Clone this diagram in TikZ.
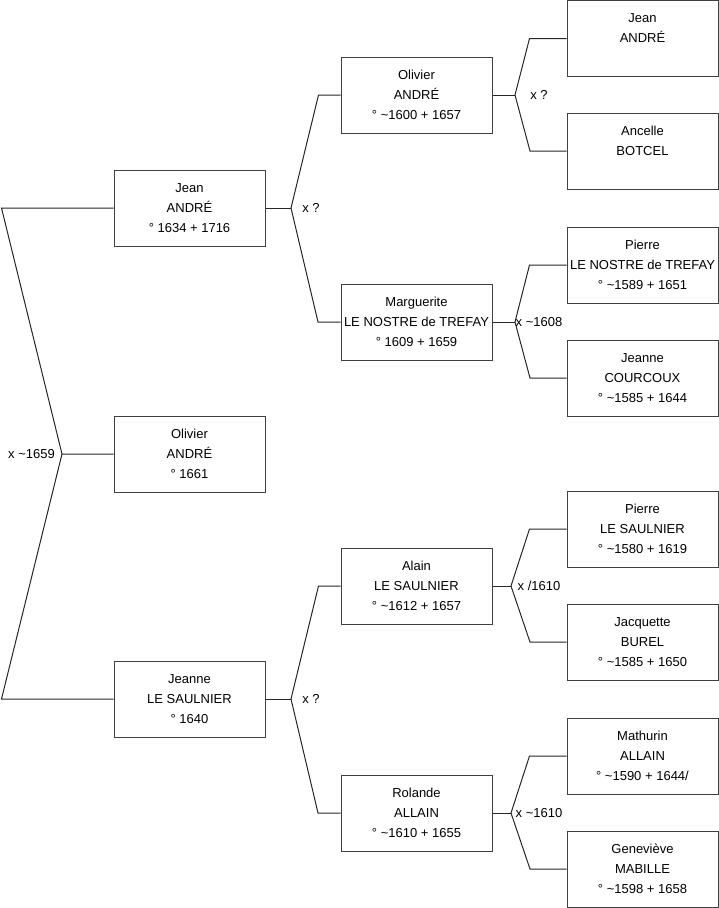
\documentclass[tikz,border=0pt]{standalone}
\usepackage{fontspec}
\setmainfont{Liberation Sans}
\usetikzlibrary{positioning}
\tikzset{
  personne/.style={draw=black!75,line width=1pt,minimum width=151pt,minimum height=76pt,inner sep=0pt,align=center,font=\fontsize{13}{20}\selectfont},
  lien/.style={draw=black!85,line width=1pt},
  union/.style={inner sep=0pt,font=\fontsize{13}{16}\selectfont}
}

\begin{document}
\begin{tikzpicture}[x=1pt,y=-1pt]
\useasboundingbox (0,0) rectangle (719,908);
% generation 1
\node[personne] (jean) at (189.5,208) {Jean\\ANDRÉ\\° 1634 + 1716};
\node[personne] (olivier) at (189.5,454) {Olivier\\ANDRÉ\\° 1661};
\node[personne] (jeanne) at (189.5,699) {Jeanne\\LE SAULNIER\\° 1640};
% generation 2
\node[personne] (olivierP) at (416.5,95) {Olivier\\ANDRÉ\\° \textasciitilde1600 + 1657};
\node[personne] (marguerite) at (416.5,322) {Marguerite\\LE NOSTRE de TREFAY\\° 1609 + 1659};
\node[personne] (alain) at (416.5,586) {Alain\\LE SAULNIER\\° \textasciitilde1612 + 1657};
\node[personne] (rolande) at (416.5,813) {Rolande\\ALLAIN\\° \textasciitilde1610 + 1655};
% generation 3
\node[personne] (jeanA) at (642.5,38.5) {Jean\\ANDRÉ\\\mbox{}};
\node[personne] (ancelle) at (642.5,151) {Ancelle\\BOTCEL\\\mbox{}};
\node[personne] (pierreN) at (642.5,265) {Pierre\\LE NOSTRE de TREFAY\\° \textasciitilde1589 + 1651};
\node[personne] (jeanneC) at (642.5,378) {Jeanne\\COURCOUX\\° \textasciitilde1585 + 1644};
\node[personne] (pierreS) at (642.5,529) {Pierre\\LE SAULNIER\\° \textasciitilde1580 + 1619};
\node[personne] (jacquette) at (642.5,642) {Jacquette\\BUREL\\° \textasciitilde1585 + 1650};
\node[personne] (mathurin) at (642.5,756) {Mathurin\\ALLAIN\\° \textasciitilde1590 + 1644/};
\node[personne] (genevieve) at (642.5,869) {Geneviève\\MABILLE\\° \textasciitilde1598 + 1658};

% unions
\coordinate (u0) at (62,454);
\coordinate (u1) at (291,208);
\coordinate (u2) at (291,699);
\coordinate (u3) at (515,95);
\coordinate (u4) at (515,322);
\coordinate (u5) at (511,586);
\coordinate (u6) at (511,813);

\draw[lien] (jean.west) -- ++(-112,0) -- (u0) -- (olivier.west);
\draw[lien] (jeanne.west) -- ++(-112,0) -- (u0);
\node[union,left=7pt of u0] (m0) {x \textasciitilde1659};

\draw[lien] (jean.east) -- (u1);
\draw[lien] (olivierP.west) -- ++(-22,0) -- (u1) -- ++(27,114) -- (marguerite.west);
\node[union,xshift=20pt] (m1) at (u1) {x ?};

\draw[lien] (jeanne.east) -- (u2);
\draw[lien] (alain.west) -- ++(-22,0) -- (u2) -- ++(27,114) -- (rolande.west);
\node[union,xshift=20pt] (m2) at (u2) {x ?};

\draw[lien] (olivierP.east) -- (u3);
\draw[lien] (jeanA.west) -- ++(-37,0) -- (u3) -- ++(15,56) -- (ancelle.west);
\node[union,xshift=24pt] (m3) at (u3) {x ?};

\draw[lien] (marguerite.east) -- (u4);
\draw[lien] (pierreN.west) -- ++(-37,0) -- (u4) -- ++(15,56) -- (jeanneC.west);
\node[union,xshift=24pt] (m4) at (u4) {x \textasciitilde1608};

\draw[lien] (alain.east) -- (u5);
\draw[lien] (pierreS.west) -- ++(-37,0) -- (u5) -- ++(19,56) -- (jacquette.west);
\node[union,xshift=28pt] (m5) at (u5) {x /1610};

\draw[lien] (rolande.east) -- (u6);
\draw[lien] (mathurin.west) -- ++(-37,0) -- (u6) -- ++(19,56) -- (genevieve.west);
\node[union,xshift=28pt] (m6) at (u6) {x \textasciitilde1610};
\end{tikzpicture}
\end{document}
